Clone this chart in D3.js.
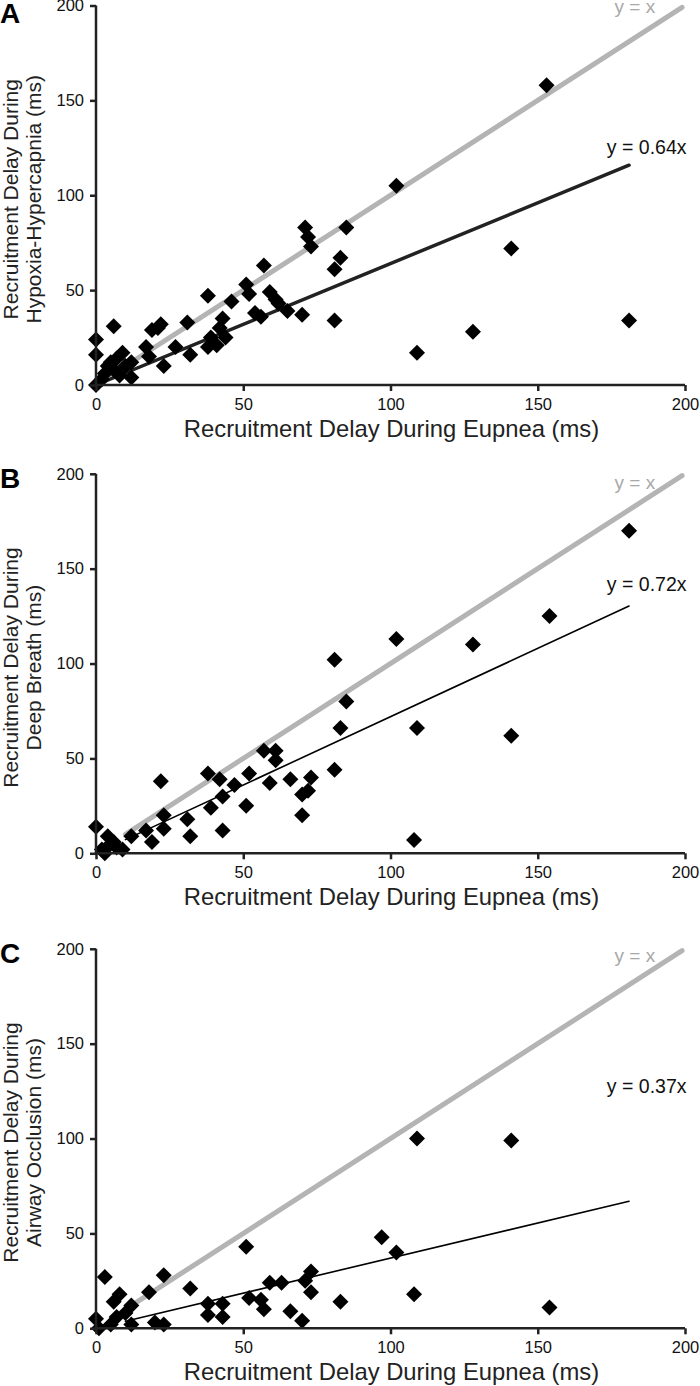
<!DOCTYPE html>
<html><head><meta charset="utf-8">
<script src="https://cdn.jsdelivr.net/npm/d3@7"></script>
<style>
html,body{margin:0;padding:0;background:#fff;}
svg{display:block;font-family:"Liberation Sans",Arial,Helvetica,sans-serif;}
</style></head>
<body>
<div id="chart"></div>
<script>
// ---------- data ----------
const axisTicks = [0, 50, 100, 150, 200];
const xAxisTitle = "Recruitment Delay During Eupnea (ms)";

// Panel A: Eupnea vs Hypoxia-Hypercapnia
const eupneaA  = [0,0,0,2,3,4,5,6,6,7,8,9,10,12,12,17,18,19,21,22,23,27,31,32,38,38,39,41,42,43,44,46,51,52,54,56,57,59,61,62,65,70,71,72,73,81,81,83,85,102,109,128,141,153,181];
const hypoxiaA = [0,16,24,3,6,10,12,31,8,14,5,17,10,12,4,20,15,29,30,32,10,20,33,16,20,47,25,21,30,35,25,44,53,48,38,36,63,49,45,43,39,37,83,78,73,61,34,67,83,105,17,28,72,158,34];

// Panel B: Eupnea vs Deep Breath
const eupneaB     = [0,2,3,4,5,6,7,9,12,17,19,22,23,23,31,32,38,39,42,43,43,47,51,52,57,59,61,61,66,70,70,72,73,81,81,83,85,102,108,109,128,141,154,181];
const deepBreathB = [14,2,0,9,5,6,3,2,9,12,6,38,20,13,18,9,42,24,39,30,12,36,25,42,54,37,54,49,39,20,31,33,40,44,102,66,80,113,7,66,110,62,125,170];

// Panel C: Eupnea vs Airway Occlusion
const eupneaC    = [0,1,3,5,6,7,8,10,12,12,18,20,23,23,32,38,38,43,43,51,52,56,57,59,63,66,70,71,73,73,83,97,102,108,109,141,154];
const occlusionC = [5,0,27,2,14,6,18,8,12,2,19,3,28,2,21,13,7,13,6,43,16,15,10,24,24,9,4,25,30,19,14,48,40,18,100,99,11];

const panelLetters = ["A", "B", "C"];
const yTitles = [
  ["Recruitment Delay During", "Hypoxia-Hypercapnia (ms)"],
  ["Recruitment Delay During", "Deep Breath (ms)"],
  ["Recruitment Delay During", "Airway Occlusion (ms)"]
];
const fitSlopes = [0.64, 0.72, 0.37];
const fitLabels = ["y = 0.64x", "y = 0.72x", "y = 0.37x"];
const identityLabel = "y = x";
const lineStarts = [0, 10, 10];     // x where reference lines begin
const fitEnd = 181;                 // x where fitted line ends
const identityEnd = 199;            // x where y = x line ends

// ---------- layout ----------
const W = 700, H = 1386;
const bottoms = [385, 853.3, 1328.3];
const plotH = 379.5;
const xLeft = 96, xRight = 685;
const identityLabelY = [196, 192, 193];
const fitLabelY = [122, 138, 124];
const fitLabelStyle = [{w:3.5, c:"#222"}, {w:1.6, c:"#000"}, {w:1.6, c:"#000"}];

const panels = [
  {xs: eupneaA, ys: hypoxiaA},
  {xs: eupneaB, ys: deepBreathB},
  {xs: eupneaC, ys: occlusionC}
];

const svg = d3.select("#chart").append("svg").attr("width", W).attr("height", H);

const x = d3.scaleLinear().domain([0, 200]).range([xLeft, xRight]);

panels.forEach((p, i) => {
  const bottom = bottoms[i], top = bottom - plotH;
  const y = d3.scaleLinear().domain([0, 200]).range([bottom, top]);
  const g = svg.append("g");

  // identity line
  g.append("line")
    .attr("x1", x(lineStarts[i])).attr("y1", y(lineStarts[i]))
    .attr("x2", x(identityEnd)).attr("y2", y(identityEnd))
    .attr("stroke", "#b4b4b4").attr("stroke-width", 5).attr("stroke-linecap", "round");

  // fitted line
  g.append("line")
    .attr("x1", x(lineStarts[i])).attr("y1", y(lineStarts[i] * fitSlopes[i]))
    .attr("x2", x(fitEnd)).attr("y2", y(fitEnd * fitSlopes[i]))
    .attr("stroke", fitLabelStyle[i].c).attr("stroke-width", fitLabelStyle[i].w).attr("stroke-linecap", "round");

  // points
  const pts = p.xs.map((v, k) => [v, p.ys[k]]);
  g.selectAll("path.pt").data(pts).enter().append("path")
    .attr("class", "pt")
    .attr("d", "M0,-8L8,0L0,8L-8,0Z")
    .attr("transform", d => `translate(${x(d[0])},${y(d[1])})`)
    .attr("fill", "#000");

  // axes
  const yAxis = d3.axisLeft(y).tickValues(axisTicks).tickSize(6).tickSizeOuter(0).tickPadding(6);
  const xAxis = d3.axisBottom(x).tickValues(axisTicks).tickSize(6).tickSizeOuter(0).tickPadding(7);
  const ya = g.append("g").attr("transform", `translate(${xLeft},0)`).call(yAxis);
  const xa = g.append("g").attr("transform", `translate(0,${bottom})`).call(xAxis);
  [ya, xa].forEach(a => {
    a.select(".domain").attr("stroke", "#222").attr("stroke-width", 2.5);
    a.selectAll(".tick line").attr("stroke", "#222").attr("stroke-width", 2.5);
    a.selectAll(".tick text").attr("fill", "#111").style("font-size", "16.5px")
      .style("font-family", '"Liberation Sans", Arial, sans-serif');
  });
  ya.select(".domain").attr("d", `M0,${top}V${bottom + 1.25}`);
  xa.select(".domain").attr("d", `M${xLeft - 1.25},0H${xRight}`);

  // labels
  g.append("text").attr("x", x(183)).attr("y", y(identityLabelY[i]))
    .attr("text-anchor", "middle").attr("fill", "#a8a8a8").style("font-size", "19px")
    .text(identityLabel);
  g.append("text").attr("x", x(187)).attr("y", y(fitLabelY[i]))
    .attr("text-anchor", "middle").attr("fill", "#111").style("font-size", "19.5px")
    .text(fitLabels[i]);

  // x title
  g.append("text").attr("x", 391.5).attr("y", bottom + 52)
    .attr("text-anchor", "middle").attr("fill", "#222").style("font-size", "23.8px")
    .text(xAxisTitle);

  // y title
  const yc = (top + bottom) / 2 + 4;
  yTitles[i].forEach((t, k) => {
    g.append("text").attr("transform", `translate(${18 + k * 23},${yc}) rotate(-90)`)
      .attr("text-anchor", "middle").attr("fill", "#222").style("font-size", "21px")
      .text(t);
  });

  // panel letter
  g.append("text").attr("x", 0).attr("y", i === 0 ? 23 : top + 14)
    .attr("fill", "#000").style("font-size", "28px").style("font-weight", "bold")
    .text(panelLetters[i]);
});
</script>
</body></html>
